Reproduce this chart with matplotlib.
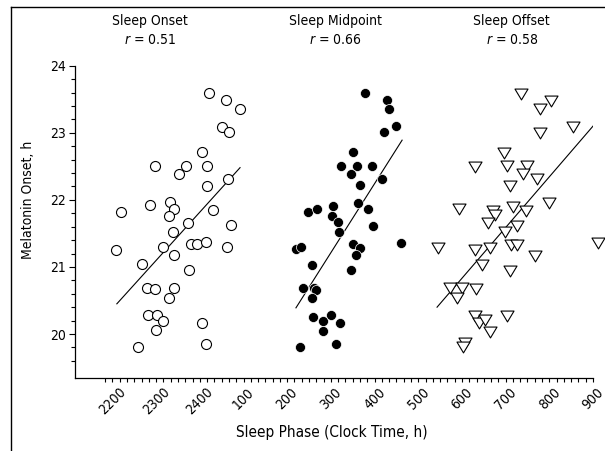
import numpy as np
import matplotlib
matplotlib.use('Agg')
import matplotlib.pyplot as plt
from matplotlib import font_manager
from matplotlib.lines import Line2D
from matplotlib.path import Path
import matplotlib.transforms as mtransforms

# the original uses a narrow sans; take a condensed face if one is installed
fam = 'Liberation Sans'
stretch = 'normal'
for f in font_manager.fontManager.ttflist:
    if 'Narrow' in f.name or 'Condensed' in f.name:
        fam = f.name
        break
    if f.stretch in ('condensed', 'semi-condensed', 500, 'narrow') and f.name in ('DejaVu Sans', 'Liberation Sans', 'Roboto', 'Noto Sans', 'Open Sans'):
        fam = f.name
        stretch = f.stretch
        break
plt.rcParams['font.family'] = [fam, 'DejaVu Sans']
plt.rcParams['font.stretch'] = stretch
plt.rcParams['mathtext.fontset'] = 'custom'
plt.rcParams['mathtext.it'] = fam + ':italic'
plt.rcParams['mathtext.rm'] = fam

# clock time as hours on one running scale (25 = 01:00 next day)
onset_x = [24.22, 24.59, 24.92, 24.50, 24.67, 24.04, 22.97, 23.68, 24.17, 23.52, 24.65,
           24.17, 22.19, 22.86, 23.32, 23.41, 23.29, 24.30, 23.73, 24.71, 23.39, 22.08,
           23.16, 23.80, 23.93, 24.15, 24.62, 23.41, 22.68, 23.76, 22.78, 22.97, 23.41,
           23.29, 22.82, 23.01, 23.15, 23.00, 24.05, 22.58, 24.14]
onset_y = [23.59, 23.49, 23.35, 23.09, 23.01, 22.72, 22.50, 22.51, 22.51, 22.38, 22.31,
           22.21, 21.82, 21.92, 21.97, 21.87, 21.76, 21.85, 21.66, 21.62, 21.52, 21.25,
           21.29, 21.34, 21.34, 21.37, 21.29, 21.18, 21.05, 20.96, 20.69, 20.67, 20.69,
           20.54, 20.28, 20.28, 20.20, 20.06, 20.16, 19.81, 19.85]

mid_x = [27.78, 28.28, 28.33, 28.49, 28.22, 27.51, 27.24, 27.59, 27.94, 27.46, 28.17,
         27.66, 26.47, 26.69, 27.04, 27.02, 27.62, 27.85, 27.16, 27.96, 27.19, 26.20,
         26.31, 27.50, 27.66, 27.57, 28.60, 26.57, 27.46, 26.37, 26.62, 26.66, 26.57,
         26.58, 26.82, 27.00, 27.21, 26.82, 26.30, 27.12]
mid_y = [23.59, 23.49, 23.35, 23.10, 23.01, 22.71, 22.51, 22.51, 22.51, 22.38, 22.31,
         22.22, 21.82, 21.87, 21.91, 21.76, 21.96, 21.86, 21.67, 21.61, 21.52, 21.26,
         21.29, 21.34, 21.28, 21.18, 21.35, 21.03, 20.96, 20.68, 20.68, 20.65, 20.54,
         20.26, 20.20, 20.29, 20.16, 20.05, 19.81, 19.85]

offset_x = [31.36, 32.03, 31.78, 32.54, 31.78, 30.97, 30.30, 31.03, 31.49, 31.40, 31.72,
            31.11, 29.94, 30.70, 30.75, 30.59, 31.16, 31.46, 31.99, 31.25, 30.98, 29.46,
            30.30, 30.65, 31.13, 31.27, 31.68, 30.47, 31.10, 33.12, 29.72, 29.99, 30.32,
            29.88, 30.31, 30.39, 30.52, 30.64, 31.03, 30.08, 30.03]
offset_y = [23.58, 23.48, 23.35, 23.09, 23.00, 22.70, 22.49, 22.50, 22.50, 22.38, 22.31,
            22.20, 21.86, 21.83, 21.78, 21.66, 21.90, 21.84, 21.96, 21.61, 21.52, 21.28,
            21.25, 21.28, 21.32, 21.32, 21.17, 21.03, 20.94, 21.35, 20.68, 20.68, 20.67,
            20.53, 20.27, 20.16, 20.21, 20.03, 20.27, 19.86, 19.80]

# fitted lines, end points
onset_fit_x = [22.10, 24.92]
onset_fit_y = [20.45, 22.48]
mid_fit_x = [26.20, 28.63]
mid_fit_y = [20.39, 22.89]
offset_fit_x = [29.43, 33.12]
offset_fit_y = [20.40, 23.19]

titles = ['Sleep Onset', 'Sleep Midpoint', 'Sleep Offset']
r_values = ['0.51', '0.66', '0.58']
title_x = [22.86, 27.11, 31.14]

hour_ticks = list(range(22, 34))
hour_labels = ['2200', '2300', '2400', '100', '200', '300', '400', '500',
               '600', '700', '800', '900']

fig = plt.figure(figsize=(6.05, 4.51), dpi=100)
ax = fig.add_axes([0.12397, 0.16186, 0.85620, 0.69246])

ax.scatter(onset_x, onset_y, s=52, marker='o', facecolor='white',
           edgecolor='black', linewidth=0.8, clip_on=False, zorder=3)
ax.scatter(mid_x, mid_y, s=52, marker='o', facecolor='black',
           edgecolor='white', linewidth=0.5, clip_on=False, zorder=3)
tri = Path([(-1.2, 1), (1.2, 1), (0, -1), (-1.2, 1)],
           [Path.MOVETO, Path.LINETO, Path.LINETO, Path.CLOSEPOLY])
ax.scatter(offset_x, offset_y, s=88, marker=tri, facecolor='white',
           edgecolor='black', linewidth=0.8, clip_on=False, zorder=3)

ax.plot(onset_fit_x, onset_fit_y, color='black', lw=0.8, zorder=2)
ax.plot(mid_fit_x, mid_fit_y, color='black', lw=0.8, zorder=2)
ax.plot(offset_fit_x, offset_fit_y, color='black', lw=0.8, zorder=2)

ax.set_xlim(21.142, 33.0)
ax.set_ylim(19.344, 24.0)

ax.spines['top'].set_visible(False)
ax.spines['right'].set_visible(False)

ax.set_xticks(hour_ticks)
ax.set_xticklabels(hour_labels, rotation=45, fontsize=10)
ax.set_xticks(np.arange(21 + 5/6, 33.01, 1/6), minor=True)
ax.tick_params(axis='x', which='both', direction='out', length=3, width=0.8, pad=2)

ax.set_yticks([20, 21, 22, 23, 24])
ax.set_yticklabels(['20', '21', '22', '23', '24'], fontsize=10)
ax.set_yticks(np.arange(19.6, 24.01, 0.2), minor=True)
ax.tick_params(axis='y', which='major', length=4.5, width=0.8, pad=2)
ax.tick_params(axis='y', which='minor', length=3, width=0.8)

for sp in ['left', 'bottom']:
    ax.spines[sp].set_linewidth(0.9)

# panel headings
trans = mtransforms.blended_transform_factory(ax.transData, ax.transAxes)
for i in range(3):
    ax.text(title_x[i], 1.143, titles[i], transform=trans, ha='center',
            va='center', fontsize=10)
    ax.text(title_x[i], 1.082, '$r$ = ' + r_values[i], transform=trans,
            ha='center', va='center', fontsize=10)

ytrans = mtransforms.blended_transform_factory(ax.transAxes, ax.transData)
ax.text(-0.0907, 22, 'Melatonin Onset, h', transform=ytrans, rotation=90,
        ha='center', va='center', fontsize=10)
ax.text(0.496, -0.176, 'Sleep Phase (Clock Time, h)', transform=ax.transAxes,
        ha='center', va='center', fontsize=11)

# frame of the original figure (left and top only)
fig.add_artist(Line2D([10.5/605, 10.5/605], [0, 1 - 6.5/451], color='black',
                      lw=1.0, transform=fig.transFigure))
fig.add_artist(Line2D([10.5/605, 1], [1 - 6.5/451, 1 - 6.5/451], color='black',
                      lw=1.0, transform=fig.transFigure))

fig.savefig('out.png', dpi=100)
